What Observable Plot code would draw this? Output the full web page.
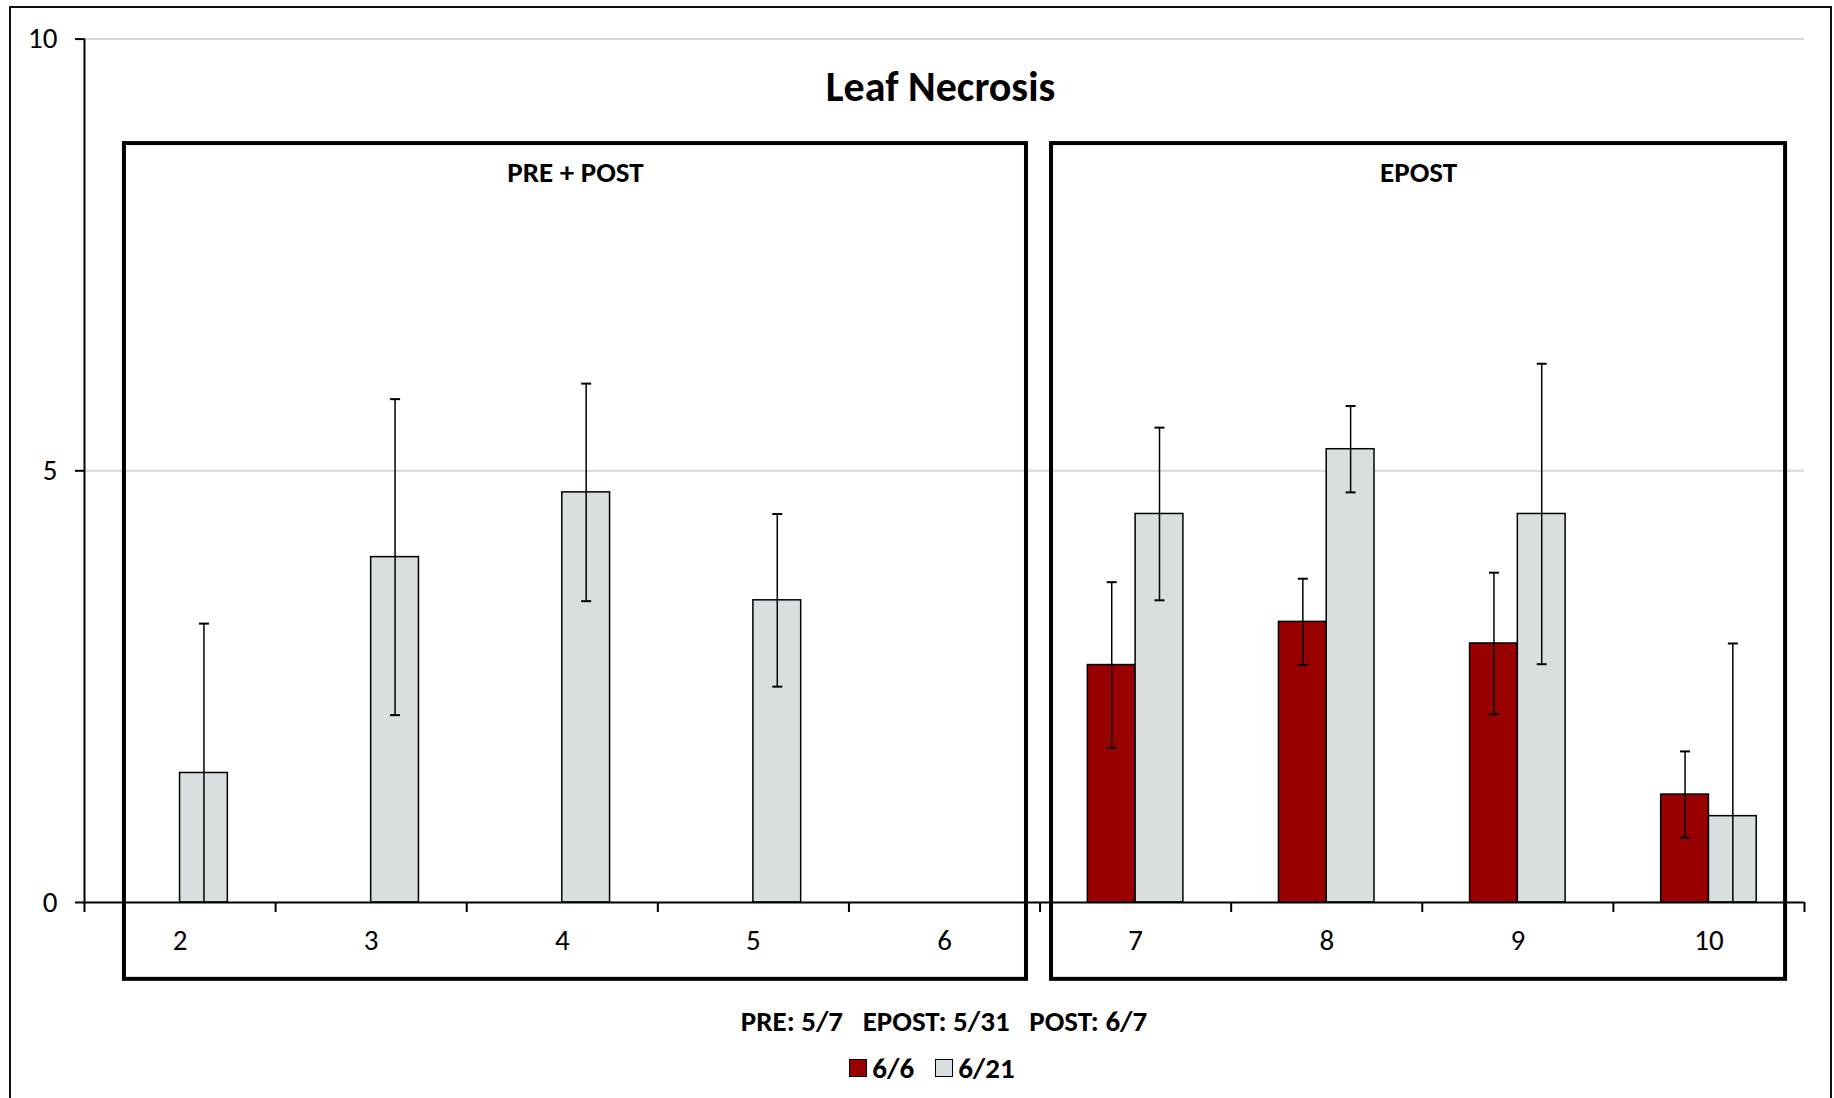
<!DOCTYPE html>
<html>
<head>
<meta charset="utf-8">
<script src="https://cdn.jsdelivr.net/npm/d3@7"></script>
<script src="https://cdn.jsdelivr.net/npm/@observablehq/plot@0.6"></script>
<style>
  html, body { margin: 0; padding: 0; background: #fff; overflow: hidden; }
  body { width: 1834px; height: 1098px; position: relative; font-family: Carlito, Lato, "Open Sans", sans-serif; color: #000; }
  #chart { position: absolute; left: 0; top: 0; }
  #border { position: absolute; left: 9px; top: 6px; width: 1823px; height: 1200px; border: 2px solid #111; box-sizing: border-box; pointer-events: none; }
  #footer { position: absolute; left: 0; top: 1003px; width: 1834px; padding-left: 54px; box-sizing: border-box; text-align: center; font-weight: bold; font-size: 29px; white-space: pre; line-height: 36px; }
  #legend { position: absolute; left: 0; top: 1050px; width: 1834px; display: flex; justify-content: center; gap: 21px; font-weight: bold; font-size: 29px; line-height: 36px; padding-left: 30px; box-sizing: border-box; }
  .item { display: flex; align-items: center; gap: 5px; }
  .swatch { width: 18px; height: 18px; border: 1px solid #000; box-sizing: border-box; }
</style>
</head>
<body>
<div id="chart"></div>
<div id="border"></div>
<div id="footer"></div>
<div id="legend"></div>
<script>
// ---- data ----
const title = "Leaf Necrosis";
const categories = [2, 3, 4, 5, 6, 7, 8, 9, 10];
const seriesNames = ["6/6", "6/21"];
const seriesColors = ["#990000", "#D9DEE0"];
const values66  = [null, null, null, null, null, 2.75, 3.25, 3.0, 1.25];
const err66     = [null, null, null, null, null, 0.96, 0.5, 0.82, 0.5];
const values621 = [1.5, 4.0, 4.75, 3.5, null, 4.5, 5.25, 4.5, 1.0];
const err621    = [1.73, 1.83, 1.26, 1.0, null, 1.0, 0.5, 1.74, 2.0];
const yTicks = [0, 5, 10];
const panelLabels = ["PRE + POST", "EPOST"];
const panelFirst = [2, 7];
const panelLast = [6, 10];
const footerText = "PRE: 5/7   EPOST: 5/31   POST: 6/7";

// ---- layout constants (not data) ----
const barW = 0.25;
const panelInsets = [[0.209, 0.071], [0.06, 0.099]];
const boxTop = 8.79, boxBottom = -0.89;

const rows = [];
categories.forEach((c, i) => {
  if (values66[i] != null) rows.push({cat: c, series: seriesNames[0], value: values66[i], err: err66[i], slot: 0});
  if (values621[i] != null) rows.push({cat: c, series: seriesNames[1], value: values621[i], err: err621[i], slot: 1});
});
const bx1 = d => d.cat - barW + d.slot * barW;
const bx2 = d => bx1(d) + barW;
const bc = d => bx1(d) + barW / 2;

const caps = [];
rows.forEach(d => {
  caps.push({x: bc(d), y: d.value + d.err});
  if (d.value - d.err >= 0) caps.push({x: bc(d), y: d.value - d.err});
});

const panels = panelLabels.map((label, i) => ({
  label,
  x1: panelFirst[i] - 0.5 + panelInsets[i][0],
  x2: panelLast[i] + 0.5 - panelInsets[i][1]
}));

const boundaries = categories.map(c => c - 0.5).concat([categories[categories.length - 1] + 0.5]);
const xDomain = [boundaries[0], boundaries[boundaries.length - 1]];

const capSymbol = {
  draw(context, size) {
    const r = Math.sqrt(size / Math.PI);
    context.moveTo(-r, 0);
    context.lineTo(r, 0);
  }
};

const chart = Plot.plot({
  width: 1834,
  height: 1000,
  marginLeft: 84,
  marginRight: 30,
  marginTop: 38.6,
  marginBottom: 98,
  style: {fontFamily: "Carlito, Lato, 'Open Sans', sans-serif", fontSize: "29px", color: "#000", background: "transparent", overflow: "visible"},
  x: {domain: xDomain, axis: null},
  y: {domain: [0, 10], axis: null},
  color: {domain: seriesNames, range: seriesColors},
  marks: [
    Plot.ruleY(yTicks.filter(t => t > 0), {stroke: "#d9d9d9", strokeWidth: 2}),
    Plot.rect(rows, {x1: bx1, x2: bx2, y1: 0, y2: "value", fill: "series", stroke: "#000", strokeWidth: 1.5}),
    Plot.ruleX(rows, {x: bc, y1: d => Math.max(0, d.value - d.err), y2: d => d.value + d.err, stroke: "#000", strokeWidth: 1.5}),
    Plot.dot(caps, {x: "x", y: "y", symbol: capSymbol, r: 5, stroke: "#000", strokeWidth: 2, fill: "none"}),
    Plot.ruleX([xDomain[0]], {y1: 0, y2: 10, stroke: "#000", strokeWidth: 2}),
    Plot.ruleY([0], {x1: xDomain[0], x2: xDomain[1], stroke: "#000", strokeWidth: 2}),
    Plot.axisY({ticks: yTicks, tickSize: 9, tickPadding: 18, fontSize: 29, strokeWidth: 2, tickFormat: d => String(d)}),
    Plot.axisX({ticks: categories, tickSize: 0, tickPadding: 27, fontSize: 29, tickFormat: d => String(d)}),
    Plot.axisX({ticks: boundaries, tickSize: 10, strokeWidth: 2, tickFormat: () => ""}),
    Plot.rect(panels, {x1: "x1", x2: "x2", y1: boxBottom, y2: boxTop, fill: "none", stroke: "#000", strokeWidth: 4}),
    Plot.text(panels, {x: d => (d.x1 + d.x2) / 2, y: boxTop, dy: 29, text: "label", fontSize: 29, fontWeight: "bold", lineAnchor: "middle"}),
    Plot.text([title], {frameAnchor: "top", dx: -4, dy: 48, text: d => d, fontSize: 42, fontWeight: "bold", lineAnchor: "middle"})
  ]
});
document.getElementById("chart").appendChild(chart);

document.getElementById("footer").textContent = footerText;
const legend = document.getElementById("legend");
seriesNames.forEach((name, i) => {
  const item = document.createElement("div");
  item.className = "item";
  const sw = document.createElement("div");
  sw.className = "swatch";
  sw.style.background = seriesColors[i];
  const label = document.createElement("span");
  label.textContent = name;
  item.appendChild(sw);
  item.appendChild(label);
  legend.appendChild(item);
});
</script>
</body>
</html>
